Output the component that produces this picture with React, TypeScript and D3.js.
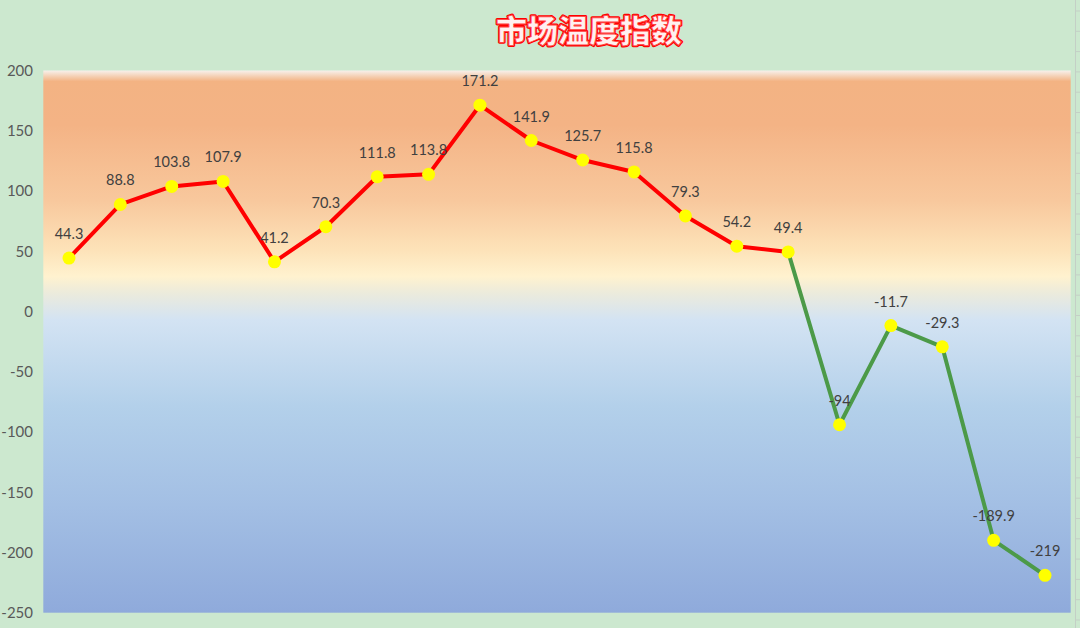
import React from "react";
import * as d3 from "d3";

const categories = ["P1","P2","P3","P4","P5","P6","P7","P8","P9","P10","P11","P12","P13","P14","P15","P16","P17","P18","P19","P20"];
const values = [44.3, 88.8, 103.8, 107.9, 41.2, 70.3, 111.8, 113.8, 171.2, 141.9, 125.7, 115.8, 79.3, 54.2, 49.4, -94, -11.7, -29.3, -189.9, -219];
const labels = ["44.3","88.8","103.8","107.9","41.2","70.3","111.8","113.8","171.2","141.9","125.7","115.8","79.3","54.2","49.4","-94","-11.7","-29.3","-189.9","-219"];
const yTicks = [-250, -200, -150, -100, -50, 0, 50, 100, 150, 200];
const redCount = 15; // first 15 points in red, then green from the 15th
const title = "市场温度指数";

const W = 1080, H = 628;
const plot = { left: 43.3, right: 1070.7, top: 70.5, bottom: 612.7 };

export default function App() {
  const x = d3.scalePoint<string>().domain(categories).range([plot.left, plot.right]).padding(0.5);
  const y = d3.scaleLinear().domain([-250, 200]).range([plot.bottom, plot.top]);
  const pts = categories.map((c, i) => ({ c, v: values[i], l: labels[i], i }));
  const line = d3.line<{ c: string; v: number }>().x(d => x(d.c)!).y(d => y(d.v));
  const redPts = pts.slice(0, redCount);
  const greenPts = pts.slice(redCount - 1);
  const gridTicks = d3.range(11, H, 20.3);

  return (
    <svg width={W} height={H} style={{ position: "fixed", left: 0, top: 0, display: "block" }}>
      <defs>
        <linearGradient id="bg" x1="0" y1="0" x2="0" y2="1">
          <stop offset="0" stopColor="#f7f1ec" />
          <stop offset="0.02" stopColor="#f3b383" />
          <stop offset="0.1" stopColor="#f4b385" />
          <stop offset="0.24" stopColor="#f8c89d" />
          <stop offset="0.33" stopColor="#fde2b8" />
          <stop offset="0.38" stopColor="#fff2cf" />
          <stop offset="0.41" stopColor="#ecebdc" />
          <stop offset="0.46" stopColor="#d3e3f3" />
          <stop offset="0.62" stopColor="#b3d0ea" />
          <stop offset="0.8" stopColor="#a3bfe4" />
          <stop offset="1" stopColor="#8faadb" />
        </linearGradient>
      </defs>
      <rect x={0} y={0} width={W} height={H} fill="#cce8cf" />
      <line x1={1075.5} x2={1075.5} y1={0} y2={H} stroke="#c4cfc6" strokeWidth={1} />
      {gridTicks.map((t, i) => (
        <line key={i} x1={1075.5} x2={1080} y1={t} y2={t} stroke="#c4cfc6" strokeWidth={1} />
      ))}
      <rect x={plot.left} y={plot.top} width={plot.right - plot.left} height={plot.bottom - plot.top} fill="url(#bg)" />
      <text x={589} y={42} textAnchor="middle" fontFamily="'Noto Sans CJK SC'" fontWeight={900} fontSize={31}
        fill="#ff0000" stroke="#ff0000" strokeWidth={3} strokeLinejoin="round">{title}</text>
      <text x={589} y={42} textAnchor="middle" fontFamily="'Noto Sans CJK SC'" fontWeight={900} fontSize={31}
        fill="#fff0f0" stroke="#ff4040" strokeWidth={0.8} strokeLinejoin="round">{title}</text>
      {yTicks.map(t => (
        <text key={t} x={33} y={y(t)} dy="0.36em" textAnchor="end" fontFamily="Lato" fontSize={15} fill="#595959">{t}</text>
      ))}
      <path d={line(greenPts)!} fill="none" stroke="#4c9a48" strokeWidth={4} strokeLinejoin="round" />
      <path d={line(redPts)!} fill="none" stroke="#ff0000" strokeWidth={4} strokeLinejoin="round" />
      {pts.map(p => (
        <circle key={p.c} cx={x(p.c)!} cy={y(p.v)} r={6.5} fill="#ffff00" />
      ))}
      {pts.map(p => (
        <text key={p.c} x={x(p.c)!} y={y(p.v) - 19} textAnchor="middle" fontFamily="Lato" fontSize={14.5} fill="#404040">{p.l}</text>
      ))}
    </svg>
  );
}
